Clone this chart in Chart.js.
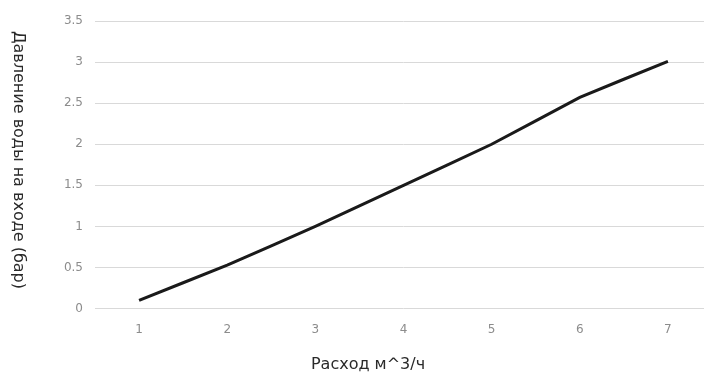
<!DOCTYPE html>
<html>
<head>
<meta charset="utf-8">
<script src="https://cdn.jsdelivr.net/npm/chart.js@4"></script>
<style>
    html, body { margin: 0; padding: 0; background: #fff; overflow: hidden; }
    #wrap { width: 712px; height: 374px; }
</style>
</head>
<body>
<div id="wrap"><canvas id="chart"></canvas></div>
<script>
// Chart data
const flowLabels = ['1', '2', '3', '4', '5', '6', '7'];
const pressureValues = [0.1, 0.53, 1.0, 1.5, 2.0, 2.57, 3.01];
const yTicks = [0, 0.5, 1, 1.5, 2, 2.5, 3, 3.5];

const xTitle = 'Расход м^3/ч';
const yTitle = 'Давление воды на входе (бар)';

const tickFont = { family: "'DejaVu Sans', sans-serif", size: 12 };

// Axis titles drawn by hand (y title reads top to bottom)
const axisTitles = {
    id: 'axisTitles',
    afterDraw(chart) {
        const ctx = chart.ctx;
        ctx.save();
        ctx.fillStyle = '#2a2a2a';
        ctx.font = "16px 'DejaVu Sans', sans-serif";
        ctx.textAlign = 'center';
        ctx.textBaseline = 'middle';
        ctx.fillText(xTitle, 368, 365);
        ctx.translate(18, 160);
        ctx.rotate(Math.PI / 2);
        ctx.fillText(yTitle, 0, 0);
        ctx.restore();
    }
};

new Chart(document.getElementById('chart').getContext('2d'), {
    type: 'line',
    data: {
        labels: flowLabels,
        datasets: [{
            data: pressureValues,
            borderColor: '#1a1a1a',
            borderWidth: 3,
            pointRadius: 0,
            tension: 0.05,
            fill: false
        }]
    },
    options: {
        responsive: true,
        maintainAspectRatio: false,
        animation: false,
        layout: { padding: { top: 21, right: 0, bottom: 23, left: 0 } },
        plugins: {
            legend: { display: false },
            tooltip: { enabled: false }
        },
        scales: {
            x: {
                offset: true,
                grid: { display: false, drawTicks: false },
                border: { display: false },
                ticks: { color: '#8c8c8c', font: tickFont, padding: 14 }
            },
            y: {
                min: 0,
                max: 3.5,
                afterFit: (scale) => { scale.width = 95; },
                afterBuildTicks: (scale) => { scale.ticks = yTicks.map(v => ({ value: v })); },
                grid: { color: '#d9d9d9', lineWidth: 1, drawTicks: false },
                border: { display: false },
                ticks: { color: '#8c8c8c', font: tickFont, padding: 12, callback: (v) => String(v) }
            }
        }
    },
    plugins: [axisTitles]
});
</script>
</body>
</html>
